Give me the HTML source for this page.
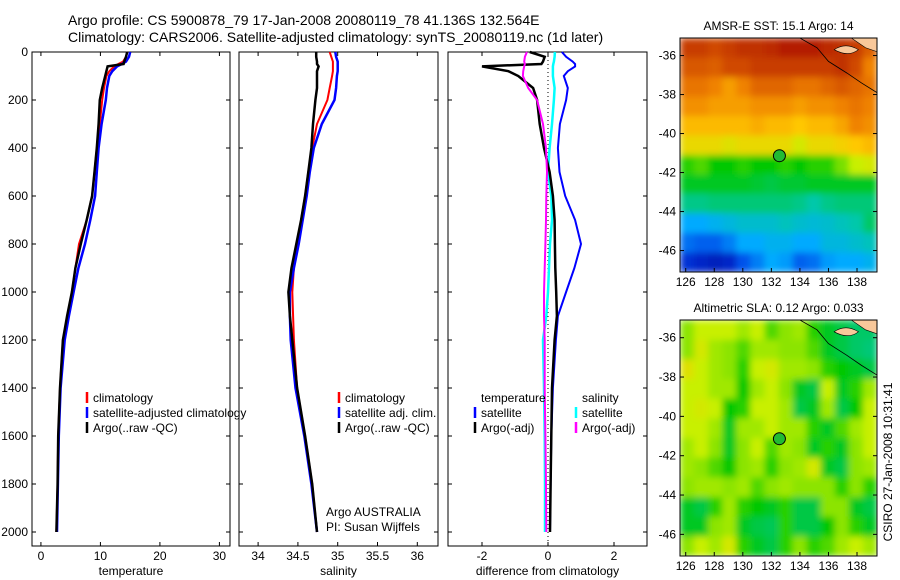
<!DOCTYPE html>
<html><head><meta charset="utf-8"><style>
body{margin:0;background:#fff}
svg{display:block;font-family:"Liberation Sans",sans-serif;font-size:12px}
</style></head><body>
<svg id="fig" width="900" height="580" viewBox="0 0 900 580">
<defs>
<filter id="blur" x="0" y="0" width="1" height="1"><feGaussianBlur stdDeviation="3.5" edgeMode="duplicate"/></filter>
<clipPath id="clipTop"><rect x="680" y="38" width="197" height="234"/></clipPath>
<clipPath id="clipBot"><rect x="680" y="320" width="197" height="236"/></clipPath>
</defs>
<text x="68" y="25" font-size="14">Argo profile: CS 5900878_79 17-Jan-2008 20080119_78 41.136S 132.564E</text>
<text x="68" y="42" font-size="14">Climatology: CARS2006. Satellite-adjusted climatology: synTS_20080119.nc (1d later)</text>
<g id="g"></g>
</svg>
<script>
const depths=[0,20,40,50,60,80,100,150,200,300,400,500,600,700,800,900,1000,1100,1200,1400,1600,1800,2000];
const tempClim=[14.5,14.3,13.8,13,12.3,11.5,11,10.6,10.3,9.9,9.4,9.0,8.6,7.7,6.4,5.8,5.2,4.5,3.7,3.2,2.9,2.8,2.6];
const tempSat=[15,14.8,14.3,13.6,12.8,12,11.5,11.1,10.9,10.2,9.7,9.4,9.1,8.3,7.4,6.3,5.5,4.7,4,3.3,3,2.85,2.7];
const tempArgo=[14.5,14.3,14,13.9,11.2,11,10.8,10.3,9.9,9.7,9.4,9.0,8.6,7.7,6.7,5.8,5.2,4.4,3.7,3.2,2.9,2.8,2.6];
const salClim=[34.9,34.92,34.94,34.94,34.94,34.94,34.93,34.9,34.87,34.74,34.68,34.63,34.59,34.54,34.49,34.45,34.43,34.44,34.45,34.49,34.59,34.68,34.74];
const salSat=[34.97,34.98,35.0,35.0,35.0,35.0,34.99,34.98,34.96,34.8,34.7,34.65,34.61,34.56,34.51,34.45,34.4,34.4,34.41,34.47,34.58,34.67,34.74];
const salArgo=[34.73,34.73,34.74,34.74,34.76,34.74,34.74,34.74,34.72,34.69,34.67,34.63,34.59,34.54,34.48,34.42,34.38,34.4,34.43,34.49,34.59,34.68,34.74];
const dTempArgo=[-0.55,-0.1,-0.15,-0.2,-2.0,-1.2,-0.9,-0.45,-0.33,-0.25,-0.12,0.05,0.15,0.2,0.21,0.22,0.25,0.27,0.2,0.12,0.1,0.08,0.06];
const dTempSat=[0.42,0.55,0.75,0.82,0.82,0.6,0.48,0.6,0.55,0.36,0.3,0.35,0.52,0.82,1.0,0.8,0.55,0.3,0.24,0.15,0.1,0.08,0.06];
const dSalArgo=[-0.64,-0.7,-0.72,-0.7,-0.72,-0.75,-0.76,-0.6,-0.33,-0.15,-0.06,-0.03,-0.05,-0.06,-0.08,-0.1,-0.12,-0.12,-0.1,-0.1,-0.08,-0.06,-0.05];
const dSalSat=[0.21,0.2,0.18,0.16,0.15,0.15,0.15,0.2,0.18,0.12,0.05,0,0.1,0.12,0.06,0.03,0,-0.05,-0.15,-0.12,-0.1,-0.09,-0.09];
const depthTicks=[0,200,400,600,800,1000,1200,1400,1600,1800,2000];
const tempTicks=[0,10,20,30];
const salTicks=[34,34.5,35,35.5,36];
const diffTicks=[-2,0,2];
const latTicks=[-36,-38,-40,-42,-44,-46];
const lonTicks=[126,128,130,132,134,136,138];
const sstGrid=[
[.9,.9,.88,.9,.92,.92,.93,.95,.95,.95,.93,.92,.9,.85],
[.86,.86,.85,.88,.88,.9,.9,.9,.9,.9,.9,.92,.88,.8],
[.82,.82,.8,.76,.8,.84,.84,.84,.82,.82,.84,.86,.84,.82],
[.78,.78,.76,.76,.76,.78,.78,.78,.76,.78,.78,.8,.82,.8],
[.72,.72,.72,.72,.72,.74,.72,.72,.7,.72,.72,.75,.8,.78],
[.66,.66,.66,.64,.66,.66,.66,.66,.62,.66,.66,.68,.7,.72],
[.52,.54,.5,.5,.52,.5,.5,.52,.5,.52,.52,.56,.6,.62],
[.48,.48,.48,.48,.48,.47,.46,.47,.47,.48,.48,.48,.48,.48],
[.42,.42,.43,.43,.43,.43,.43,.43,.42,.4,.42,.43,.43,.43],
[.3,.3,.32,.34,.36,.36,.36,.38,.36,.35,.36,.38,.4,.44],
[.22,.2,.2,.24,.3,.3,.32,.32,.3,.3,.34,.34,.36,.38],
[.12,.1,.08,.1,.18,.24,.3,.28,.2,.22,.28,.3,.3,.32]];
const slaGrid=[
[.57,.6,.6,.6,.58,.6,.54,.57,.58,.52,.48,.46,.44,.44],
[.57,.62,.58,.57,.54,.58,.58,.57,.57,.54,.48,.46,.44,.43],
[.64,.6,.58,.57,.52,.6,.62,.58,.58,.57,.52,.5,.48,.46],
[.6,.6,.58,.58,.5,.58,.6,.57,.48,.46,.6,.48,.52,.58],
[.6,.62,.6,.5,.52,.6,.6,.58,.46,.48,.58,.46,.5,.6],
[.6,.6,.58,.48,.58,.58,.6,.58,.58,.52,.48,.54,.58,.6],
[.58,.6,.57,.48,.57,.6,.54,.58,.57,.48,.52,.48,.57,.6],
[.58,.57,.54,.5,.57,.58,.52,.57,.58,.62,.48,.46,.57,.58],
[.57,.58,.58,.57,.58,.54,.57,.58,.57,.57,.57,.52,.57,.52],
[.48,.46,.52,.58,.52,.5,.48,.52,.46,.46,.57,.57,.48,.46],
[.48,.48,.57,.58,.48,.46,.45,.52,.46,.46,.5,.57,.52,.48],
[.57,.6,.58,.62,.52,.48,.46,.52,.57,.52,.54,.58,.6,.58]];
const argoLat=-41.136, argoLon=132.564;

const NS='http://www.w3.org/2000/svg';
const G=document.getElementById('g');
function el(tag,attrs,parent){const e=document.createElementNS(NS,tag);for(const k in attrs)e.setAttribute(k,attrs[k]);(parent||G).appendChild(e);return e;}
function txt(x,y,s,anchor,parent){const t=el('text',{x:x,y:y,'text-anchor':anchor||'start'},parent);t.textContent=s;return t;}

const yTop=52,yBot=546;
const yD=d=>52+d*0.24;
const panels=[
 {x0:32,x1:230,vmin:-1.5,vmax:31.78,ticks:tempTicks,title:'temperature',name:'temperature-panel'},
 {x0:239,x1:438,vmin:33.76,vmax:36.26,ticks:salTicks,title:'salinity',name:'salinity-panel'},
 {x0:448,x1:647,vmin:-3.03,vmax:3.0,ticks:diffTicks,title:'difference from climatology',name:'difference-panel'}];
panels.forEach(p=>{p.sx=v=>p.x0+(v-p.vmin)/(p.vmax-p.vmin)*(p.x1-p.x0);});

panels.forEach((p,i)=>{
 const g=el('g',{});
 
 
 const r=el('rect',{x:p.x0,y:yTop,width:p.x1-p.x0,height:yBot-yTop,fill:'none',stroke:'#000'},g);
 
 
 depthTicks.forEach(d=>{
  el('line',{x1:p.x0,x2:p.x0+4,y1:yD(d),y2:yD(d),stroke:'#000'},g);
  el('line',{x1:p.x1,x2:p.x1-4,y1:yD(d),y2:yD(d),stroke:'#000'},g);
  if(i===0){const t=txt(28,yD(d)+4,String(d),'end',g);
   
   }
 });
 p.ticks.forEach(v=>{
  const x=p.sx(v);
  el('line',{x1:x,x2:x,y1:yBot,y2:yBot-4,stroke:'#000'},g);
  el('line',{x1:x,x2:x,y1:yTop,y2:yTop+4,stroke:'#000'},g);
  const t=txt(x,560,String(v),'middle',g);
  
  
 });
 const at=txt((p.x0+p.x1)/2,575,p.title,'middle',g);
 
 
});

function series(p,vals,color,w,name){
 const pts=vals.map((v,k)=>p.sx(v).toFixed(1)+','+yD(depths[k]).toFixed(1)).join(' ');
 const l=el('polyline',{points:pts,fill:'none',stroke:color,'stroke-width':w,'stroke-linejoin':'miter'});
 
 
}
const P=panels;
const z=el('line',{x1:P[2].sx(0),x2:P[2].sx(0),y1:yTop,y2:yBot,stroke:'#000','stroke-dasharray':'1,3'});


series(P[0],tempClim,'#f00',2,'temp-climatology-line');
series(P[0],tempSat,'#00f',2.5,'temp-satellite-line');
series(P[0],tempArgo,'#000',2.5,'temp-argo-line');
series(P[1],salClim,'#f00',2,'sal-climatology-line');
series(P[1],salSat,'#00f',2.5,'sal-satellite-line');
series(P[1],salArgo,'#000',2.5,'sal-argo-line');
series(P[2],dSalSat,'#0ff',2.5,'diff-sal-satellite-line');
series(P[2],dTempSat,'#00f',2,'diff-temp-satellite-line');
series(P[2],dTempArgo,'#000',2.5,'diff-temp-argo-line');
series(P[2],dSalArgo,'#f0f',2,'diff-sal-argo-line');

function legend(x,y,color,label,name){
 const g=el('g',{});
 
 
 if(color)el('line',{x1:x-6,x2:x-6,y1:y-10,y2:y+1,stroke:color,'stroke-width':2.5},g);
 txt(x,y,label,'start',g);
}
legend(93,402,'#f00','climatology','legend-climatology');
legend(93,417,'#00f','satellite-adjusted climatology','legend-satellite-adjusted');
legend(93,432,'#000','Argo(..raw -QC)','legend-argo');
legend(345,402,'#f00','climatology','legend-sal-climatology');
legend(345,417,'#00f','satellite adj. clim.','legend-sal-satellite');
legend(345,432,'#000','Argo(..raw -QC)','legend-sal-argo');
legend(481,402,null,'temperature','legend-temperature-header');
legend(481,417,'#00f','satellite','legend-temp-satellite');
legend(481,432,'#000','Argo(-adj)','legend-temp-argo');
legend(582,402,null,'salinity','legend-salinity-header');
legend(582,417,'#0ff','satellite','legend-sal-sat');
legend(582,432,'#f0f','Argo(-adj)','legend-sal-argo-adj');
const c1=txt(326,516,'Argo AUSTRALIA','start');


const c2=txt(326,531,'PI: Susan Wijffels','start');



const cmapStops=[[0,0,0,140],[0.15,0,60,230],[0.3,0,170,255],[0.4,0,200,170],[0.5,0,200,0],[0.6,200,240,0],[0.7,255,200,0],[0.8,240,130,0],[0.9,200,60,0],[1,160,0,0]];
function cmap(v){v=Math.max(0,Math.min(1,v));
 for(let i=1;i<cmapStops.length;i++){const a=cmapStops[i-1],b=cmapStops[i];
  if(v<=b[0]){const t=(v-a[0])/(b[0]-a[0]);
   return 'rgb('+[1,2,3].map(k=>Math.round(a[k]+(b[k]-a[k])*t)).join(',')+')';}}
 return 'rgb(160,0,0)';}
function map(top,bot,grid,title,name,clip){
 const x0=680,x1=877,latTop=-35.1,latBot=-47.1,lonL=125.6,lonR=139.4;
 const lx=lon=>x0+(lon-lonL)/(lonR-lonL)*(x1-x0);
 const ly=lat=>top+(latTop-lat)/(latTop-latBot)*(bot-top);
 const g=el('g',{});
 
 
 const cg=el('g',{'clip-path':'url(#'+clip+')'},g);
 const bg=el('g',{filter:'url(#blur)'},cg);
 const rows=grid.length,cols=grid[0].length;
 const cw=(x1-x0)/cols,ch=(bot-top)/rows;
 grid.forEach((row,r)=>row.forEach((v,c)=>{
  const cell=el('rect',{x:x0+c*cw,y:top+r*ch,width:cw+0.5,height:ch+0.5,fill:cmap(v)},bg);
  
  
 }));
 el('path',{d:`M${lx(137.6)} ${top} L${x1} ${top} L${x1} ${ly(-35.8)} L${lx(138.6)} ${ly(-35.6)} Z`,fill:'#f9c89a',stroke:'#000','stroke-width':0.6},cg);
 el('path',{d:`M${lx(136.4)} ${ly(-35.7)} Q${lx(137.2)} ${ly(-35.3)} ${lx(138.1)} ${ly(-35.7)} Q${lx(137.4)} ${ly(-36.1)} ${lx(136.4)} ${ly(-35.7)} Z`,fill:'#f9c89a',stroke:'#000','stroke-width':0.6},cg);
 el('polyline',{points:`${lx(134)},${top} ${lx(135.2)},${ly(-35.6)} ${lx(136)},${ly(-36.3)} ${lx(137.3)},${ly(-36.9)} ${lx(138.3)},${ly(-37.4)} ${x1},${ly(-37.9)}`,fill:'none',stroke:'#000','stroke-width':0.8},cg);
 el('rect',{x:x0,y:top,width:x1-x0,height:bot-top,fill:'none',stroke:'#000'},g);
 latTicks.forEach(l=>{el('line',{x1:x0,x2:x0+4,y1:ly(l),y2:ly(l),stroke:'#000'},g);
  el('line',{x1:x1,x2:x1-4,y1:ly(l),y2:ly(l),stroke:'#000'},g);
  const t=txt(676,ly(l)+4,String(l),'end',g);
  
  });
 lonTicks.forEach(l=>{el('line',{x1:lx(l),x2:lx(l),y1:bot,y2:bot-4,stroke:'#000'},g);
  const t=txt(lx(l),bot+14,String(l),'middle',g);
  
  });
 const mk=el('circle',{cx:lx(argoLon),cy:ly(argoLat),r:6,fill:'#22bb33',stroke:'#000'},g);
 
 
 const tt=txt((x0+x1)/2,top-8,title,'middle',g);
 
 
}
map(38,272,sstGrid,'AMSR-E SST: 15.1  Argo: 14','sst-map','clipTop');
map(320,556,slaGrid,'Altimetric SLA: 0.12  Argo: 0.033','sla-map','clipBot');
const cs=txt(0,0,'CSIRO 27-Jan-2008 10:31:41','middle');
cs.setAttribute('transform','translate(892,462) rotate(-90)');


</script>
</body></html>
